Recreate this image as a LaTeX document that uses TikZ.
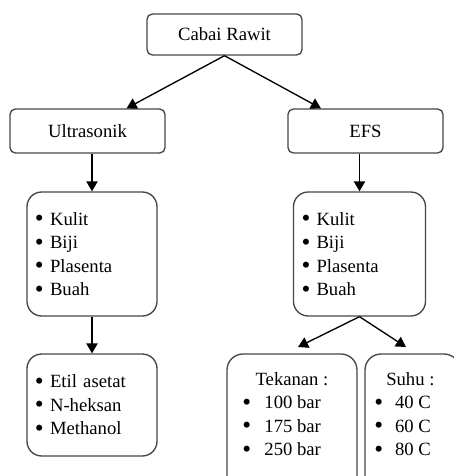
\documentclass[tikz,border=0pt]{standalone}
\usepackage{fontspec}
\setmainfont{Liberation Serif}
\usetikzlibrary{arrows.meta,calc}

\definecolor{boxgray}{RGB}{70,70,70}
\newcommand{\bul}{\raisebox{-1.2pt}[0pt][0pt]{\scalebox{1.35}{\textbullet}}}

\tikzset{
  box/.style={draw=boxgray, line width=1pt, rounded corners=4pt, minimum width=116.25pt, inner sep=0pt},
  listbox/.style={draw=boxgray, line width=1pt, rounded corners=11pt, inner xsep=6pt, inner ysep=0pt, align=left},
  arr/.style={-{Triangle[length=7.5pt,width=8.5pt]}, line width=1pt},
}

\begin{document}
\begin{tikzpicture}[x=0.75pt, y=-0.75pt, every node/.style={font=\fontsize{14}{17.6}\selectfont}]

\useasboundingbox (0,0) rectangle (454,476);
\clip (0,0) rectangle (454,476);

%% top
\node[box, minimum height=30.75pt] (cabai) at (224.5,34.5) {Cabai Rawit};

%% methods
\node[box, minimum height=33pt] (ultra) at (87.5,131) {Ultrasonik};
\node[box, minimum height=33pt] (efs)   at (365.5,131) {EFS};

%% samples
\node[listbox, text width=85.5pt, minimum height=93pt] (ultraList) at (92,254)
  {\bul\ Kulit\\ \bul\ Biji\\ \bul\ Plasenta\\ \bul\ Buah};
\node[listbox, text width=87pt, minimum height=93pt] (efsList) at (359.5,254)
  {\bul\ Kulit\\ \bul\ Biji\\ \bul\ Plasenta\\ \bul\ Buah};

%% solvents
\node[listbox, text width=85.5pt, minimum height=76.5pt] (solvent) at (92,405)
  {\bul\ Etil asetat\\ \bul\ N-heksan\\ \bul\ Methanol};

%% conditions
\node[listbox, rounded corners=12pt, minimum width=97.5pt, minimum height=109.5pt] (tekBox) at (292,427) {};
\node[listbox, rounded corners=12pt, minimum width=71.25pt, minimum height=109.5pt] (suhuBox) at (412.5,427) {};
\node[anchor=north west, inner sep=0pt, align=left] (tekText) at (242,372)
  {\hspace*{10pt}Tekanan :\\ \bul\hspace{10pt}100 bar\\ \bul\hspace{10pt}175 bar\\ \bul\hspace{10pt}250 bar};
\node[anchor=north west, inner sep=0pt, align=left] (suhuText) at (374,372)
  {\hspace*{9pt}Suhu :\\ \bul\hspace{9pt}40 C\\ \bul\hspace{9pt}60 C\\ \bul\hspace{9pt}80 C};

\coordinate (tekTip)  at (298,347);
\coordinate (suhuTip) at (406,347);

%% arrows
\draw[arr] (cabai.south) -- ($(ultra.north)!0.5!(ultra.north east)$);
\draw[arr] (cabai.south) -- ($(efs.north west)!0.43!(efs.north)$);
\draw[arr] (ultra.south -| ultraList.north) -- (ultraList.north);
\draw[arr] (efs.south -| efsList.north) -- (efsList.north);
\draw[arr] (ultraList.south) -- (solvent.north);
\draw[arr] (efsList.south) -- (tekTip);
\draw[arr] (efsList.south) -- (suhuTip);

\end{tikzpicture}
\end{document}
